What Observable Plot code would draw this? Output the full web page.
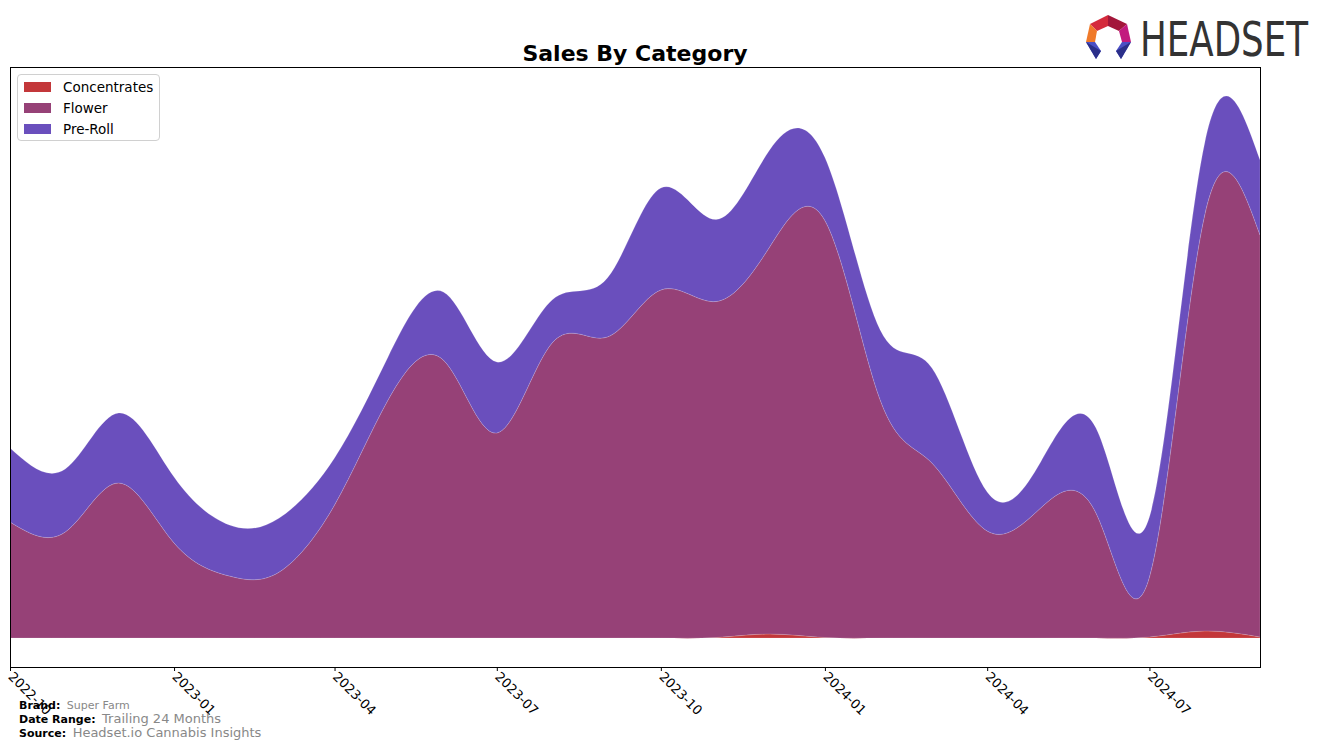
<!DOCTYPE html>
<html>
<head>
<meta charset="utf-8">
<script src="https://cdn.jsdelivr.net/npm/d3@7"></script>
<script src="https://cdn.jsdelivr.net/npm/@observablehq/plot@0.6"></script>
<style>
  html, body { margin: 0; padding: 0; background: #fff; }
  body { width: 1324px; height: 748px; position: relative; overflow: hidden; font-family: "DejaVu Sans", sans-serif; }
  #chart { position: absolute; left: 0; top: 0; }
  #title { position: absolute; left: 0; width: 1270px; top: 41px; text-align: center; font-weight: bold; font-size: 22px; color: #000; }
  #legend { position: absolute; left: 17px; top: 74px; width: 141px; height: 65px; border: 1px solid #d0d0d0; border-radius: 4px; background: rgba(255,255,255,0.85); font-size: 13.5px; }
  .item { position: absolute; left: 6px; height: 16px; display: flex; align-items: center; }
  .sw { width: 27px; height: 10px; margin-right: 12px; }
  #footer { position: absolute; left: 19px; top: 699px; font-size: 11px; line-height: 13px; }
  #footer b { color: #000; margin-right: 3px; }
  #footer .v { color: #888; }
  #footer .v2 { color: #888; font-size: 13px; }
  #logo { position: absolute; left: 1080px; top: 8px; }
</style>
</head>
<body>
<div id="chart"></div>
<div id="title">Sales By Category</div>
<div id="legend"></div>
<div id="footer">
  <div><b>Brand:</b> <span class="v">Super Farm</span></div>
  <div><b>Date Range:</b> <span class="v2">Trailing 24 Months</span></div>
  <div><b>Source:</b> <span class="v2">Headset.io Cannabis Insights</span></div>
</div>
<svg id="logo" width="244" height="60" viewBox="1080 8 244 60">
  <polygon points="1108,15 1090,24 1097,31 1108,26" fill="#d42a3c"/>
  <polygon points="1108,15 1127,24 1119,31 1108,26" fill="#a3163a"/>
  <polygon points="1090,24 1086,42 1095,42 1097,31" fill="#f07a2a"/>
  <polygon points="1127,24 1131,42 1122,42 1119,31" fill="#c21a7e"/>
  <polygon points="1086,42 1095,42 1101,51 1096,59" fill="#4b4fc4"/>
  <polygon points="1131,42 1122,42 1116,51 1121,59" fill="#4b4fc4"/>
  <polygon points="1086,42 1096,59 1101,51" fill="#2b2f8a"/>
  <polygon points="1131,42 1121,59 1116,51" fill="#2b2f8a"/>
  <text x="1140" y="56" transform="matrix(1,0,0,1.2,0,-11.2)" font-family="'DejaVu Sans Condensed','DejaVu Sans',sans-serif" font-size="40" fill="#333" textLength="168" lengthAdjust="spacingAndGlyphs">HEADSET</text>
</svg>
<script>
// ---- data (monthly, arbitrary sales units) ----
const months = ["2022-10","2022-11","2022-12","2023-01","2023-02","2023-03","2023-04","2023-05","2023-06","2023-07","2023-08","2023-09","2023-10","2023-11","2023-12","2024-01","2024-02","2024-03","2024-04","2024-05","2024-06","2024-07","2024-08","2024-09"];
const categories = ["Concentrates", "Flower", "Pre-Roll"];
const colors = ["#c3373a", "#964177", "#6a4fbd"];
const concentrates = [0,0,0,0,0,0,0,0,0,0,0,0,0,0.5,4,0.5,0,0,0,0,0,1,7,1];
const flower = [116,106,155,95,62,66,133,238,278,205,295,301,348,336,387,417,238,175,107,130,125,60,416,402];
const preRoll = [74,63,70,66,51,54,47,43,68,71,43,59,102,82,97,63,70,95,39,46,85,60,72,75];
const tickLabels = ["2022-10","2023-01","2023-04","2023-07","2023-10","2024-01","2024-04","2024-07"];
const yDomain = [-29, 571];

const parse = d3.utcParse("%Y-%m");
const series = [concentrates, flower, preRoll];
const rows = [];
categories.forEach((c, i) => {
  months.forEach((m, j) => rows.push({date: parse(m), category: c, value: series[i][j]}));
});

const chart = Plot.plot({
  width: 1324,
  height: 748,
  marginLeft: 10,
  marginRight: 64,
  marginTop: 67,
  marginBottom: 81,
  style: {fontFamily: "DejaVu Sans, sans-serif", background: "transparent", color: "#000"},
  x: {type: "utc", domain: [parse(months[0]), parse(months[months.length - 1])]},
  y: {domain: yDomain, axis: null},
  color: {domain: categories, range: colors},
  marks: [
    Plot.areaY(rows, Plot.stackY({
      x: "date", y: "value", z: "category", fill: "category",
      order: categories, curve: "natural",
      stroke: "#ffffff", strokeOpacity: 0.25, strokeWidth: 0.6
    })),
    Plot.frame({stroke: "#000", strokeWidth: 1}),
    Plot.axisX({
      ticks: tickLabels.map(parse),
      tickFormat: d3.utcFormat("%Y-%m"),
      tickRotate: 45,
      tickSize: 4,
      tickPadding: 3,
      fontSize: 13,
      label: null
    })
  ]
});
document.getElementById("chart").appendChild(chart);

const legend = document.getElementById("legend");
categories.forEach((c, i) => {
  const it = document.createElement("div");
  it.className = "item";
  it.style.top = (4 + i * 21) + "px";
  const sw = document.createElement("div");
  sw.className = "sw";
  sw.style.background = colors[i];
  const t = document.createElement("span");
  t.textContent = c;
  it.appendChild(sw);
  it.appendChild(t);
  legend.appendChild(it);
});
</script>
</body>
</html>
